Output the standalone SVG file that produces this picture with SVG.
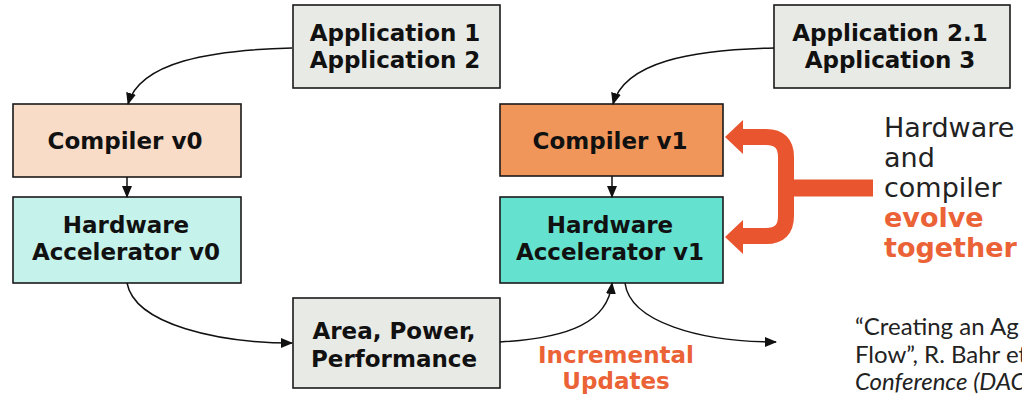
<svg xmlns="http://www.w3.org/2000/svg" width="1022" height="400" viewBox="0 0 1022 400">
<style>
.box{stroke:#1a1a1a;stroke-width:1.6}
.bt{font-family:"DejaVu Sans",Verdana,sans-serif;font-weight:bold;font-size:23px;fill:#111;text-anchor:middle}
.con{fill:none;stroke:#111;stroke-width:1.5}
.side{font-family:"DejaVu Sans",Verdana,sans-serif;font-size:27px;fill:#222}
.or{fill:#EB6236}
.cite{font-family:Lato,"Liberation Sans",sans-serif;font-size:24px;fill:#222}
</style>
<defs>
<marker id="ah" markerUnits="userSpaceOnUse" markerWidth="12" markerHeight="10" refX="11" refY="5" orient="auto">
<path d="M0,0 L12,5 L0,10 z" fill="#111"/>
</marker>
</defs>
<rect width="1022" height="400" fill="#fff"/>
<g id="app1"><rect class="box" x="293" y="5" width="207" height="83" fill="#E8EAE5"/>
<text class="bt" x="395" y="41">Application 1</text><text class="bt" x="395" y="68">Application 2</text></g>
<g id="comp0"><rect class="box" x="13" y="104" width="228" height="73" fill="#F9DCC8"/>
<text class="bt" x="125" y="149">Compiler v0</text></g>
<g id="hw0"><rect class="box" x="13" y="197" width="228" height="86" fill="#C5F3EB"/>
<text class="bt" x="126" y="233">Hardware</text><text class="bt" x="126" y="260">Accelerator v0</text></g>
<g id="app"><rect class="box" x="293" y="298" width="207" height="90" fill="#E8EAE5"/>
<text class="bt" x="394" y="339">Area, Power,</text><text class="bt" x="394" y="367">Performance</text></g>
<g id="app2"><rect class="box" x="774" y="5" width="236" height="83" fill="#E8EAE5"/>
<text class="bt" x="890" y="41">Application 2.1</text><text class="bt" x="890" y="68">Application 3</text></g>
<g id="comp1"><rect class="box" x="500" y="104" width="223" height="72" fill="#F0965A"/>
<text class="bt" x="610" y="149">Compiler v1</text></g>
<g id="hw1"><rect class="box" x="500" y="197" width="223" height="86" fill="#64E2CF"/>
<text class="bt" x="610" y="233">Hardware</text><text class="bt" x="610" y="260">Accelerator v1</text></g>
<g id="connectors">
<path class="con" marker-end="url(#ah)" d="M292 48 C210 50 140 62 128 104"/>
<path class="con" marker-end="url(#ah)" d="M127 177 L127 197"/>
<path class="con" marker-end="url(#ah)" d="M127 283 C135 325 220 343 292 343"/>
<path class="con" marker-end="url(#ah)" d="M500 342 C570 338 608 322 612 283"/>
<path class="con" marker-end="url(#ah)" d="M625 283 C630 322 700 342 776 342"/>
<path class="con" marker-end="url(#ah)" d="M774 48 C690 50 625 62 613 104"/>
<path class="con" marker-end="url(#ah)" d="M612 176 L612 197"/>
</g>
<g id="evolve-arrow" fill="#E8552E">
<path d="M742 137 H766 Q786 137 786 157 V216 Q786 236 766 236 H742" fill="none" stroke="#E8552E" stroke-width="16"/>
<path d="M786 188 H873" fill="none" stroke="#E8552E" stroke-width="17"/>
<polygon points="725,137 743,120 743,154"/>
<polygon points="725,237 743,220 743,254"/>
</g>
<g id="evolve-label">
<text class="side" x="884" y="137">Hardware</text>
<text class="side" x="884" y="167">and</text>
<text class="side" x="884" y="197">compiler</text>
<text class="side or" x="884" y="227" font-weight="bold">evolve</text>
<text class="side or" x="884" y="257" font-weight="bold">together</text>
</g>
<g id="incremental">
<text class="bt or" x="616" y="363" font-size="24">Incremental</text>
<text class="bt or" x="616" y="389" font-size="24">Updates</text>
</g>
<g id="citation">
<text class="cite" x="855" y="335">“Creating an Ag</text>
<text class="cite" x="855" y="363">Flow”, R. Bahr et</text>
<text class="cite" x="855" y="390" font-style="italic">Conference (DAC</text>
</g>
</svg>
